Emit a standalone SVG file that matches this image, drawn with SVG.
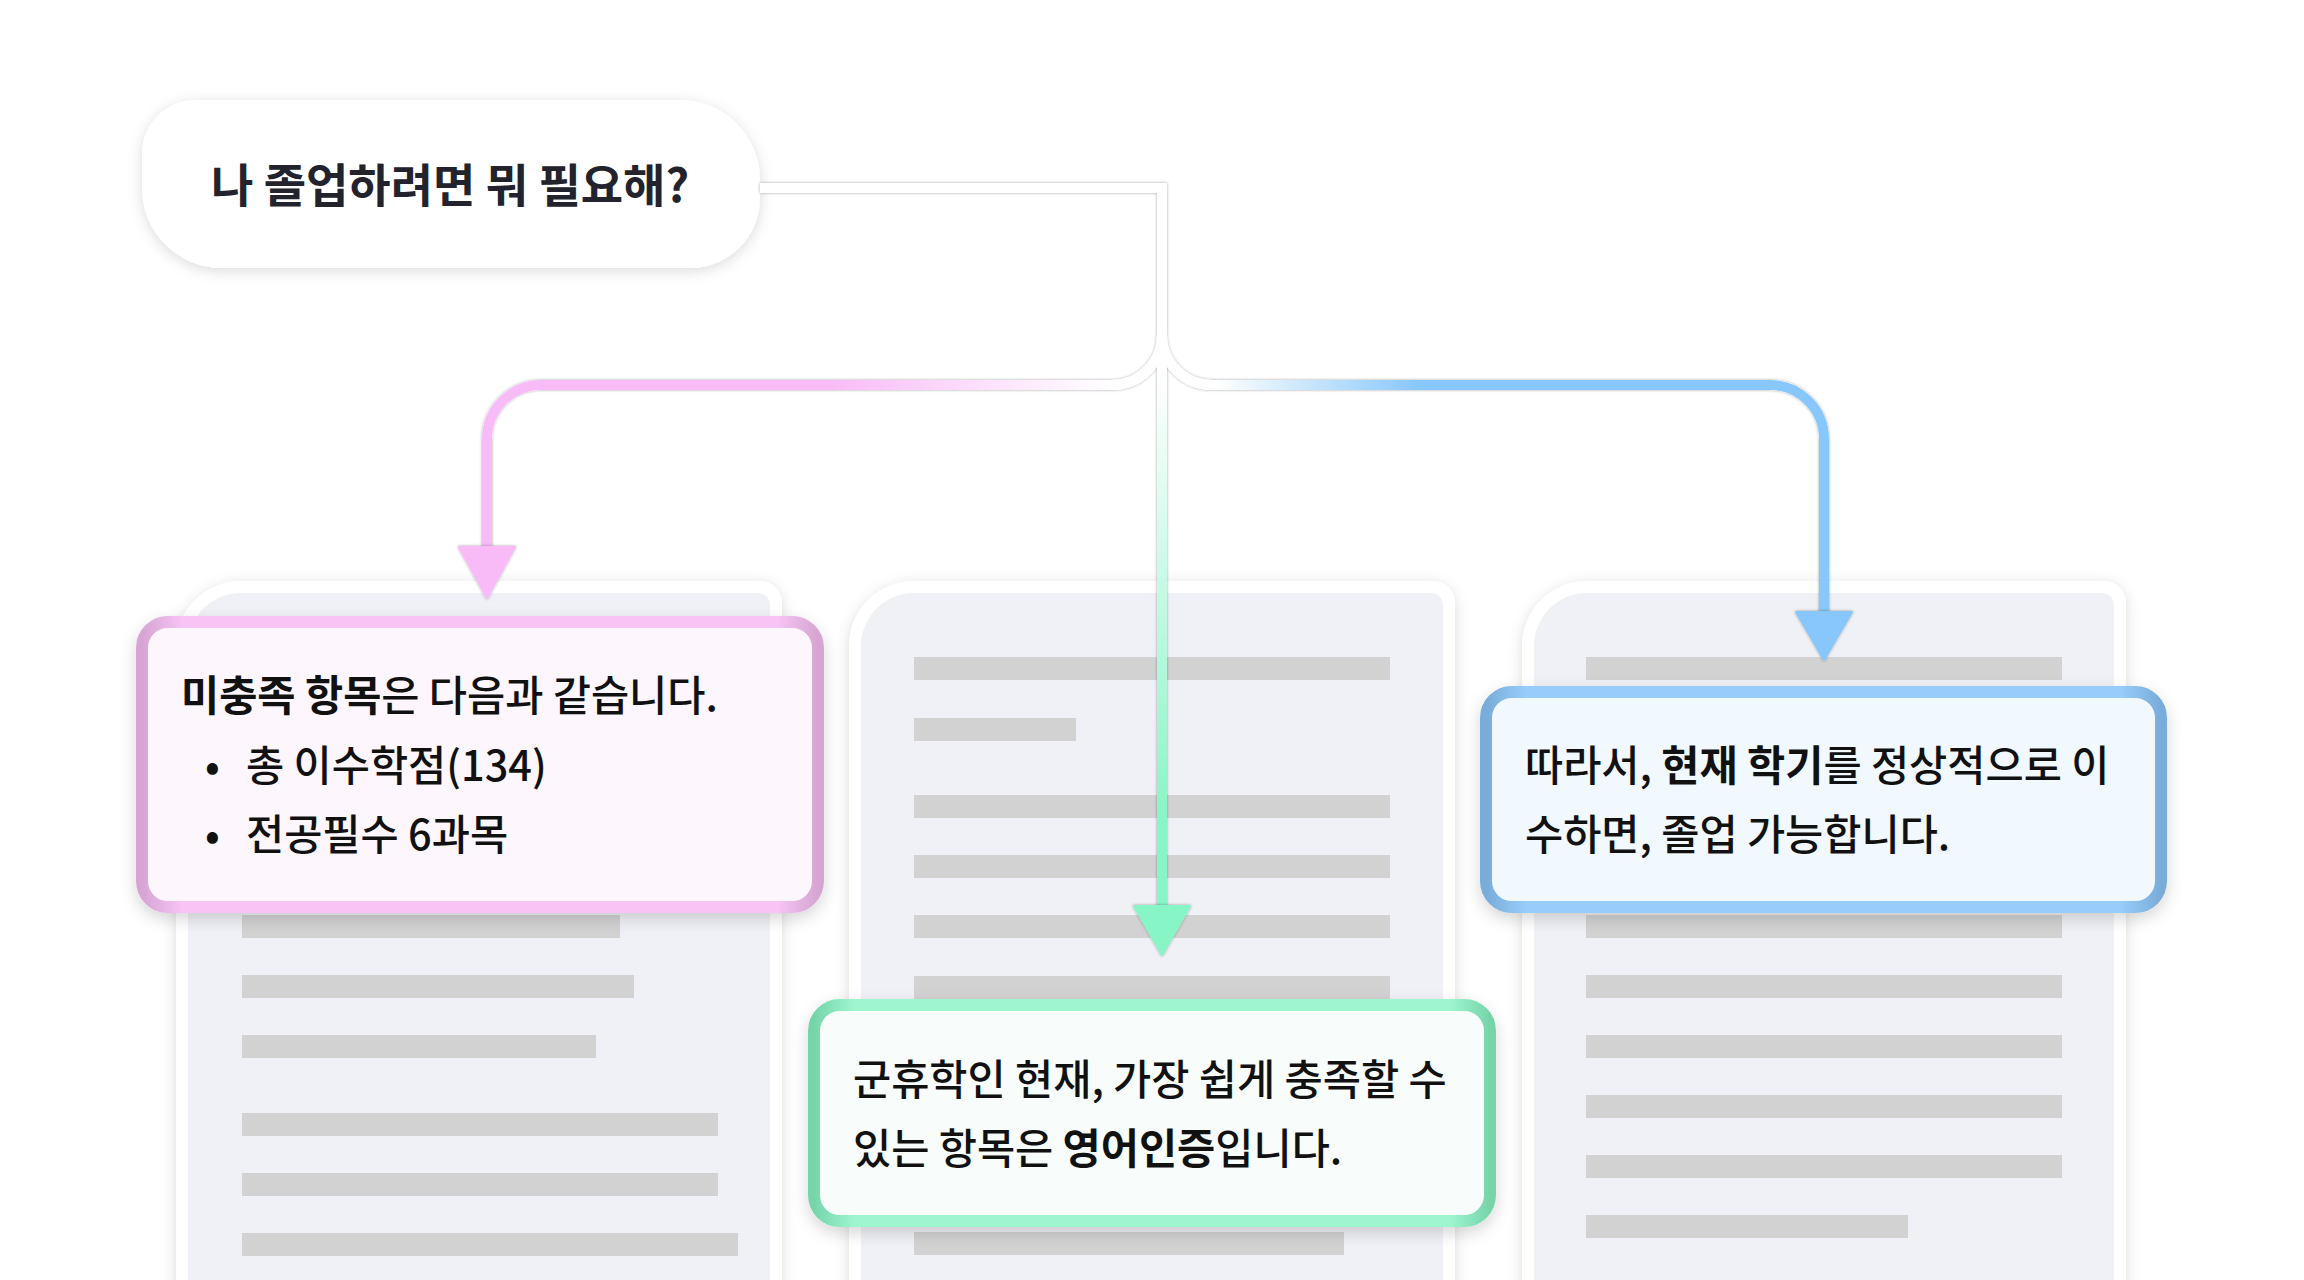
<svg xmlns="http://www.w3.org/2000/svg" width="2304" height="1280" viewBox="0 0 2304 1280">
<defs>
  <style>
    .doc-out{fill:#ffffff;}
    .doc-in{fill:#eff1f6;}
    .bar{fill:#d2d2d2;}
    .txt{font-family:"Noto Sans CJK KR","Noto Sans",sans-serif;font-size:41.5px;font-weight:500;fill:#111111;}
    .b{font-weight:700;}
    .q{font-family:"Noto Sans CJK KR","Noto Sans",sans-serif;font-size:46px;font-weight:600;fill:#23232d;}
    .base{fill:none;stroke:#ffffff;stroke-width:10;}
    .col{fill:none;stroke-width:10;}
  </style>
  <filter id="shadow" x="-20%" y="-20%" width="140%" height="140%">
    <feDropShadow dx="0" dy="3" stdDeviation="7" flood-color="#000000" flood-opacity="0.14"/>
  </filter>
  <filter id="boxShadow" x="-20%" y="-20%" width="140%" height="150%">
    <feDropShadow dx="0" dy="6" stdDeviation="8" flood-color="#000000" flood-opacity="0.16"/>
  </filter>
  <filter id="lineShadow" x="-10%" y="-10%" width="120%" height="120%">
    <feDropShadow dx="0" dy="0" stdDeviation="1.6" flood-color="#000000" flood-opacity="0.35"/>
  </filter>
  <linearGradient id="pinkLine" gradientUnits="userSpaceOnUse" x1="1110" y1="0" x2="830" y2="0">
    <stop offset="0" stop-color="#ffffff"/>
    <stop offset="1" stop-color="#f9bbf8"/>
  </linearGradient>
  <linearGradient id="blueLine" gradientUnits="userSpaceOnUse" x1="1215" y1="0" x2="1420" y2="0">
    <stop offset="0" stop-color="#ffffff"/>
    <stop offset="1" stop-color="#87c7fb"/>
  </linearGradient>
  <linearGradient id="greenLine" gradientUnits="userSpaceOnUse" x1="0" y1="370" x2="0" y2="820">
    <stop offset="0" stop-color="#ffffff"/>
    <stop offset="1" stop-color="#88f5c6"/>
  </linearGradient>
  <linearGradient id="pinkBorder" x1="0" y1="0" x2="1" y2="0">
    <stop offset="0" stop-color="#d6a5d3"/>
    <stop offset="0.06" stop-color="#f7c4f5"/>
    <stop offset="0.94" stop-color="#f7c4f5"/>
    <stop offset="1" stop-color="#d6a5d3"/>
  </linearGradient>
  <linearGradient id="greenBorder" x1="0" y1="0" x2="1" y2="0">
    <stop offset="0" stop-color="#77d4a9"/>
    <stop offset="0.06" stop-color="#9df6cf"/>
    <stop offset="0.94" stop-color="#9df6cf"/>
    <stop offset="1" stop-color="#77d4a9"/>
  </linearGradient>
  <linearGradient id="blueBorder" x1="0" y1="0" x2="1" y2="0">
    <stop offset="0" stop-color="#79acd9"/>
    <stop offset="0.06" stop-color="#98cdf9"/>
    <stop offset="0.94" stop-color="#98cdf9"/>
    <stop offset="1" stop-color="#79acd9"/>
  </linearGradient>
</defs>

<rect x="0" y="0" width="2304" height="1280" fill="#ffffff"/>

<!-- question node -->
<g id="question">
  <path d="M196 100 H680 A80 80 0 0 1 760 180 V198 A70 70 0 0 1 690 268 H222 A80 80 0 0 1 142 188 V154 A54 54 0 0 1 196 100 Z" fill="#ffffff" filter="url(#shadow)"/>
  <text class="q" x="450" y="202" text-anchor="middle">나 졸업하려면 뭐 필요해?</text>
</g>

<!-- documents -->
<g id="doc-left">
  <path class="doc-out" d="M176 1300 V646 A65 65 0 0 1 241 581 H760 A22 22 0 0 1 782 603 V1300 Z" filter="url(#shadow)"/>
  <path class="doc-in" d="M188 1300 V646 A53 53 0 0 1 241 593 H758 A12 12 0 0 1 770 605 V1300 Z"/>
  <rect class="bar" x="242" y="915" width="378" height="23"/>
  <rect class="bar" x="242" y="975" width="392" height="23"/>
  <rect class="bar" x="242" y="1035" width="354" height="23"/>
  <rect class="bar" x="242" y="1113" width="476" height="23"/>
  <rect class="bar" x="242" y="1173" width="476" height="23"/>
  <rect class="bar" x="242" y="1233" width="496" height="23"/>
</g>

<g id="doc-center">
  <path class="doc-out" d="M849 1300 V646 A65 65 0 0 1 914 581 H1433 A22 22 0 0 1 1455 603 V1300 Z" filter="url(#shadow)"/>
  <path class="doc-in" d="M861 1300 V646 A53 53 0 0 1 914 593 H1431 A12 12 0 0 1 1443 605 V1300 Z"/>
  <rect class="bar" x="914" y="657" width="476" height="23"/>
  <rect class="bar" x="914" y="718" width="162" height="23"/>
  <rect class="bar" x="914" y="795" width="476" height="23"/>
  <rect class="bar" x="914" y="855" width="476" height="23"/>
  <rect class="bar" x="914" y="915" width="476" height="23"/>
  <rect class="bar" x="914" y="976" width="476" height="23"/>
  <rect class="bar" x="914" y="1232" width="430" height="23"/>
</g>

<g id="doc-right">
  <path class="doc-out" d="M1522 1300 V646 A65 65 0 0 1 1587 581 H2104 A22 22 0 0 1 2126 603 V1300 Z" filter="url(#shadow)"/>
  <path class="doc-in" d="M1534 1300 V646 A53 53 0 0 1 1587 593 H2102 A12 12 0 0 1 2114 605 V1300 Z"/>
  <rect class="bar" x="1586" y="657" width="476" height="23"/>
  <rect class="bar" x="1586" y="915" width="476" height="23"/>
  <rect class="bar" x="1586" y="975" width="476" height="23"/>
  <rect class="bar" x="1586" y="1035" width="476" height="23"/>
  <rect class="bar" x="1586" y="1095" width="476" height="23"/>
  <rect class="bar" x="1586" y="1155" width="476" height="23"/>
  <rect class="bar" x="1586" y="1215" width="322" height="23"/>
</g>

<!-- connectors -->
<g id="connectors">
  <g filter="url(#lineShadow)">
    <path class="base" d="M760 188 H1162 V335"/>
    <path class="base" d="M1162 335 A50 50 0 0 1 1112 385 H541 A54 54 0 0 0 487 439 V550"/>
    <path class="base" d="M1162 335 A50 50 0 0 0 1212 385 H1770 A54 54 0 0 1 1824 439 V615"/>
    <path class="base" d="M1162 335 V910"/>
  </g>
  <path class="col" stroke="url(#pinkLine)" d="M1162 335 A50 50 0 0 1 1112 385 H541 A54 54 0 0 0 487 439 V550"/>
  <path class="col" stroke="url(#blueLine)" d="M1162 335 A50 50 0 0 0 1212 385 H1770 A54 54 0 0 1 1824 439 V615"/>
  <path class="col" stroke="url(#greenLine)" d="M1162 360 V910"/>
  <g filter="url(#lineShadow)">
    <polygon points="459,547 515,547 487,598" fill="#f9bbf8" stroke="#f9bbf8" stroke-width="2" stroke-linejoin="round"/>
    <polygon points="1134,906 1190,906 1162,955" fill="#88f5c6" stroke="#88f5c6" stroke-width="2" stroke-linejoin="round"/>
    <polygon points="1796,612 1852,612 1824,660" fill="#87c7fb" stroke="#87c7fb" stroke-width="2" stroke-linejoin="round"/>
  </g>
</g>

<!-- answer boxes -->
<g id="box-pink">
  <rect x="142" y="622" width="676" height="285" rx="26" fill="#fdf7fd" stroke="url(#pinkBorder)" stroke-width="12" filter="url(#boxShadow)"/>
  <text class="txt" x="181" y="711"><tspan class="b">미충족 항목</tspan>은 다음과 같습니다.</text>
  <text class="txt" x="205" y="781">•</text>
  <text class="txt" x="246" y="781">총 이수학점(134)</text>
  <text class="txt" x="205" y="850">•</text>
  <text class="txt" x="246" y="850">전공필수 6과목</text>
</g>

<g id="box-green">
  <rect x="814" y="1005" width="676" height="216" rx="26" fill="#f8fdfb" stroke="url(#greenBorder)" stroke-width="12" filter="url(#boxShadow)"/>
  <text class="txt" x="853" y="1095">군휴학인 현재, 가장 쉽게 충족할 수</text>
  <text class="txt" x="853" y="1164">있는 항목은 <tspan class="b">영어인증</tspan>입니다.</text>
</g>

<g id="box-blue">
  <rect x="1486" y="692" width="675" height="215" rx="26" fill="#f1f8fe" stroke="url(#blueBorder)" stroke-width="12" filter="url(#boxShadow)"/>
  <text class="txt" x="1525" y="781">따라서, <tspan class="b">현재 학기</tspan>를 정상적으로 이</text>
  <text class="txt" x="1525" y="850">수하면, 졸업 가능합니다.</text>
</g>
</svg>
